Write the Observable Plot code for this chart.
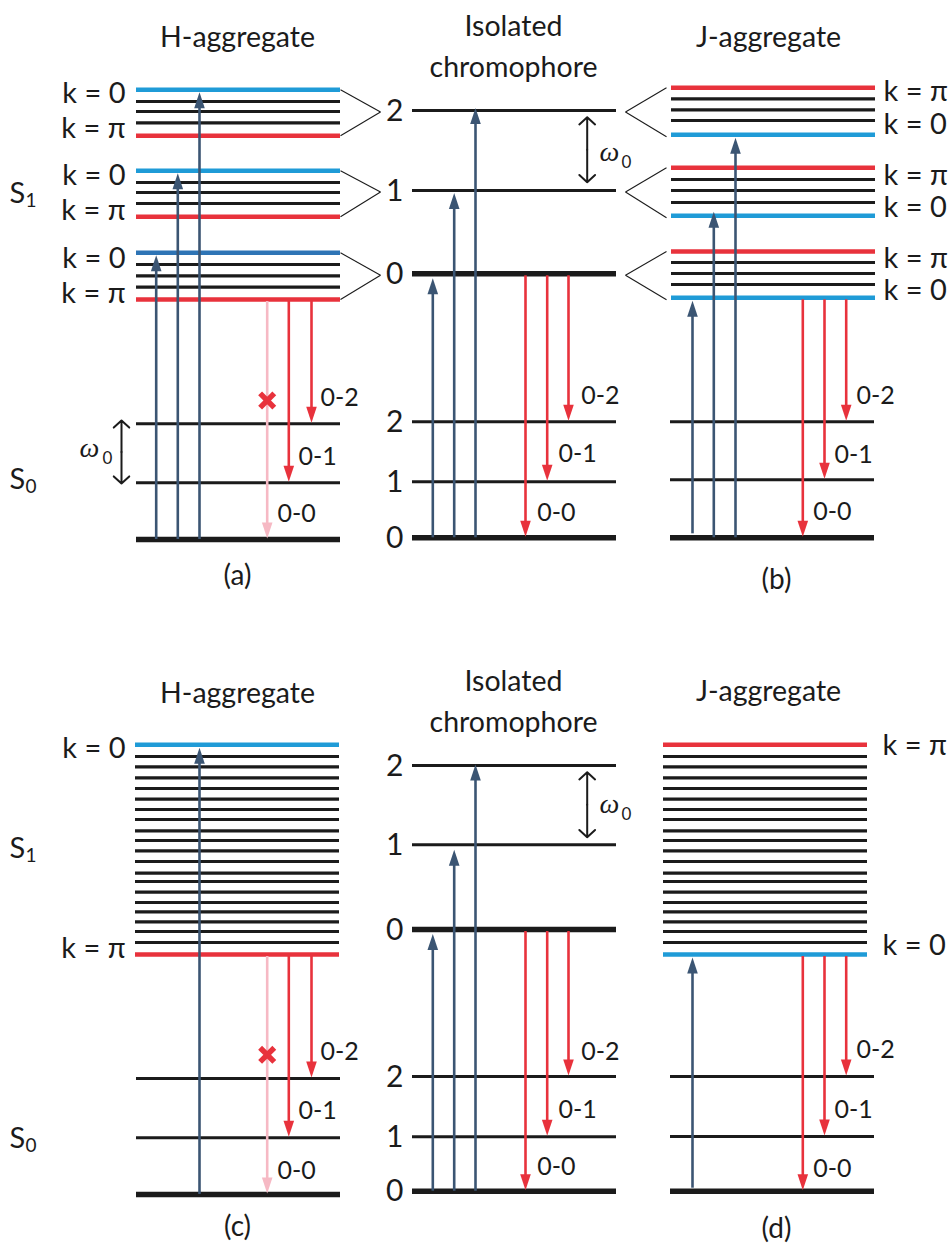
<!DOCTYPE html>
<html>
<head>
<meta charset="utf-8">
<script src="https://cdn.jsdelivr.net/npm/d3@7"></script>
<script src="https://cdn.jsdelivr.net/npm/@observablehq/plot@0.6"></script>
<style>
  html, body { margin: 0; padding: 0; background: #fff; }
  #chart svg { display: block; }
</style>
</head>
<body>
<div id="chart"></div>
<script>
// ================= DATA (vertical values are diagram positions, downward) =================
// Top row: vibronic bands (each band listed top to bottom), vib. levels v = 0, 1, 2
const hBandsTop = [            // H-aggregate (a): k = 0 on top ... k = π at bottom; bands for v = 2, 1, 0
  [89.3, 101, 111, 122.3, 135.3],
  [170.3, 182, 192, 203, 216.3],
  [252.3, 264, 275.3, 286.7, 299]
];
const jBandsTop = [            // J-aggregate (b): k = π on top ... k = 0 at bottom; bands for v = 2, 1, 0
  [87.3, 98.3, 109.3, 120, 134.3],
  [167.3, 179, 190, 202, 215.3],
  [251, 262, 273, 284, 297.3]
];
const isoS1Top = [273.3, 190, 110];      // v = 0, 1, 2
const isoS0Top = [537.3, 481.3, 421.3];
const hS0Top   = [539, 482.3, 423.3];
const jS0Top   = [537.3, 479.3, 421.3];

// Bottom row: continuous exciton band (top to bottom)
const hBandBottom = [744.3, 756, 766.3, 777.3, 788, 798.7, 809, 819, 830.3, 840, 850.3, 861, 872.7, 881, 891.7, 902, 911.3, 921.3, 931, 942, 954];
const jBandBottom = [744.3, 756, 766.3, 777.3, 788, 798.7, 809, 819, 830.3, 840, 850.3, 861, 872.7, 881, 891.7, 902, 911.3, 921.3, 931, 942, 954];
const isoS1Bottom = [929, 844.3, 765];
const isoS0Bottom = [1190.7, 1136.3, 1076];
const hS0Bottom   = [1194, 1137.3, 1078];
const jS0Bottom   = [1190.7, 1136, 1076];

// Labels
const vibLabels = ["0", "1", "2"];
const transitionLabels = ["0-0", "0-1", "0-2"];
const kZero = "k = 0", kPi = "k = π";
const panelLabels = ["(a)", "(b)", "(c)", "(d)"];
const titleH = "H-aggregate", titleIso = "Isolated\nchromophore", titleJ = "J-aggregate";

// ================= LAYOUT & STYLE =================
const BLUE = "#1f9bd7", BLUE_DARK = "#2e74b5", RED = "#e8323c", BLACK = "#1b1b1b",
      SLATE = "#3b5573", PINK = "#f6b9c4";
const rowShift = 655;
const L = {
  a:   {x1: 136, x2: 340, up: [155.7, 177.3, 199], down: [266.7, 288.3, 311]},
  iso: {x1: 412, x2: 616, up: [432.3, 453.7, 475], down: [525, 546.7, 568]},
  b:   {x1: 671, x2: 875, up: [692, 713.3, 735], down: [802.3, 824, 845.7]},
  dBand: {x1: 663, x2: 867}
};

// ================= BUILD RECORDS =================
const levels = [];
function band(values, x1, x2, topColor, bottomColor) {
  const n = values.length;
  values.forEach((y, j) => {
    const edge = j === 0 || j === n - 1;
    levels.push({y, x1, x2, stroke: j === 0 ? topColor : j === n - 1 ? bottomColor : BLACK, sw: edge ? 4.6 : 3.2});
  });
}
function ladder(values, x1, x2) {
  values.forEach((y, v) => levels.push({y, x1, x2, stroke: BLACK, sw: v === 0 ? 5.5 : 3}));
}
// top row
hBandsTop.forEach((b, i) => band(b, L.a.x1, L.a.x2, i === 2 ? BLUE_DARK : BLUE, RED));
jBandsTop.forEach(b => band(b, L.b.x1, L.b.x2, RED, BLUE));
ladder(isoS1Top, L.iso.x1, L.iso.x2);
ladder(isoS0Top, L.iso.x1, L.iso.x2);
ladder(hS0Top, L.a.x1, L.a.x2);
ladder(jS0Top, L.b.x1 - 1, L.b.x2 - 1);
// bottom row
band(hBandBottom, L.a.x1 - 1, L.a.x2 - 1, BLUE, RED);
band(jBandBottom, L.dBand.x1, L.dBand.x2, RED, BLUE);
ladder(isoS1Bottom, L.iso.x1, L.iso.x2);
ladder(isoS0Bottom, L.iso.x1, L.iso.x2);
ladder(hS0Bottom, L.a.x1, L.a.x2);
ladder(jS0Bottom, L.b.x1 - 1, L.b.x2 - 1);

// connectors between split bands and the isolated chromophore levels
const connectors = [];
hBandsTop.forEach((b, i) => {
  const yIso = isoS1Top[2 - i] + 1.5;
  connectors.push({x1: L.a.x2, y1: b[0], x2: 380, y2: yIso});
  connectors.push({x1: L.a.x2, y1: b[b.length - 1], x2: 380, y2: yIso});
});
jBandsTop.forEach((b, i) => {
  const yIso = isoS1Top[2 - i] + 1.5;
  connectors.push({x1: 666, y1: b[0], x2: 625, y2: yIso});
  connectors.push({x1: 666, y1: b[b.length - 1] + 2, x2: 625, y2: yIso});
});

// absorption (up) arrows
const ups = [];
[2, 1, 0].forEach((v, i) => {
  ups.push({x: L.a.up[i], base: hS0Top[0], tip: hBandsTop[v][0] + 2.5});
  ups.push({x: L.iso.up[i], base: isoS0Top[0], tip: isoS1Top[i] + (i === 0 ? 4.5 : i === 1 ? 2.5 : -2.5)});
  ups.push({x: L.b.up[i], base: isoS0Top[0] - (i === 0 ? 4 : 0), tip: jBandsTop[v][4] + (i === 1 ? -4 : 3)});
});
ups.push({x: L.a.up[2], base: hS0Bottom[0], tip: hBandBottom[0] + 3});
ups.push({x: L.b.up[0], base: jS0Bottom[0] - 3, tip: jBandBottom[jBandBottom.length - 1] + 3});
[0, 1, 2].forEach(i => {
  ups.push({x: L.iso.up[i], base: isoS0Bottom[0], tip: isoS1Bottom[i] + (i === 0 ? 4.5 : i === 1 ? 5 : -1)});
});

// emission (down) arrows
const downs = [];
function emission(xs, from, ground, forbidden) {
  [0, 1, 2].forEach(v => downs.push({
    x: xs[v], from, to: ground[v] - 1,
    color: (forbidden && v === 0) ? PINK : RED
  }));
}
emission(L.a.down, hBandsTop[2][4], hS0Top, true);
emission(L.iso.down, isoS1Top[0], isoS0Top, false);
emission(L.b.down, jBandsTop[2][4], jS0Top, false);
emission(L.a.down, hBandBottom[hBandBottom.length - 1], hS0Bottom, true);
emission(L.iso.down, isoS1Bottom[0], isoS0Bottom, false);
emission(L.b.down, jBandBottom[jBandBottom.length - 1], jS0Bottom, false);

const crosses = [
  {x: L.a.down[0], y: 400},
  {x: L.a.down[0], y: 400 + rowShift - 0.7}
];

// ω0 double arrows (each as two halves from the middle)
const omegaSpans = [
  {x: 121, top: 420, bottom: 483},
  {x: 586.7, top: 116.7, bottom: 181.7},
  {x: 586.7, top: 771.7, bottom: 836.7}
];
const omegaHalves = omegaSpans.flatMap(s => {
  const m = (s.top + s.bottom) / 2;
  return [{x1: s.x, y1: m, x2: s.x, y2: s.top}, {x1: s.x, y1: m, x2: s.x, y2: s.bottom}];
});

// ---- text records ----
const textMid = [
  {x: 237, y: 37, t: titleH}, {x: 768, y: 37, t: titleJ},
  {x: 237, y: 693, t: titleH}, {x: 768, y: 691, t: titleJ}
];
const textPanel = [
  {x: 237, y: 576, t: panelLabels[0]}, {x: 776, y: 580, t: panelLabels[1]},
  {x: 237, y: 1227, t: panelLabels[2]}, {x: 776, y: 1229, t: panelLabels[3]}
];
const textIso = [{x: 513, y: 43, t: titleIso}, {x: 513, y: 698, t: titleIso}];
const textEnd = [];
[[93, kZero], [128, kPi], [175, kZero], [210, kPi], [258, kZero], [293, kPi], [748, kZero], [948, kPi]]
  .forEach(([y, t]) => textEnd.push({x: 125, y, t}));
const textVib = [];
[isoS1Top, isoS0Top, isoS1Bottom, isoS0Bottom].forEach(arr =>
  arr.forEach((y, v) => textVib.push({x: 403, y: y + 0.5, t: vibLabels[v]})));
const textStart = [];
[[91, kPi], [124, kZero], [175, kPi], [207, kZero], [258, kPi], [290, kZero]]
  .forEach(([y, t]) => textStart.push({x: 883, y, t}));
[[745, kPi], [945, kZero]].forEach(([y, t]) => textStart.push({x: 882, y, t}));
const textTrans = [];
function transLabels(xs, ys) { [0, 1, 2].forEach(v => textTrans.push({x: xs[v], y: ys[v], t: transitionLabels[v]})); }
transLabels([277, 298, 320], [513, 456, 397]);
transLabels([536.7, 558, 580.7], [512, 453, 395]);
transLabels([812.7, 834, 856], [511, 454, 395]);
transLabels([277, 298, 320], [1170, 1110.7, 1051.7]);
transLabels([536.7, 558, 580.7], [1166.7, 1109, 1051]);
transLabels([812.7, 834, 856], [1168, 1109, 1049]);
const stateS = [{x: 9, y: 193}, {x: 9, y: 479}, {x: 9, y: 848}, {x: 9, y: 1138}];
const stateSub = [{x: 25, y: 200, t: "1"}, {x: 25, y: 486, t: "0"}, {x: 25, y: 855, t: "1"}, {x: 25, y: 1145, t: "0"}];
const omegaText = [{x: 79, y: 448}, {x: 599, y: 152}, {x: 599, y: 804}];
const omegaSub = [{x: 102, y: 458}, {x: 621, y: 162}, {x: 621, y: 814}];

// arrowhead symbol: tip at origin, pointing up
const head = {draw(ctx) { ctx.moveTo(0, 0); ctx.lineTo(5.3, 16); ctx.lineTo(-5.3, 16); ctx.closePath(); }};

const FONT = "Lato, 'Open Sans', 'DejaVu Sans', sans-serif";

const chart = Plot.plot({
  width: 950,
  height: 1245,
  margin: 0,
  x: {domain: [0, 950], range: [0, 950], axis: null},
  y: {domain: [0, 1245], range: [0, 1245], axis: null},
  color: {type: "identity"},
  style: {fontFamily: FONT, background: "#fff", color: BLACK},
  marks: [
    Plot.ruleY(levels, {y: "y", x1: "x1", x2: "x2", stroke: "stroke", strokeWidth: "sw"}),
    Plot.link(connectors, {x1: "x1", y1: "y1", x2: "x2", y2: "y2", stroke: BLACK, strokeWidth: 1.1}),
    Plot.ruleX(ups, {x: "x", y1: "base", y2: d => d.tip + 10, stroke: SLATE, strokeWidth: 2.6}),
    Plot.dot(ups, {x: "x", y: "tip", symbol: head, fill: SLATE, stroke: null, r: 5}),
    Plot.ruleX(downs, {x: "x", y1: d => d.from + 2, y2: d => d.to - 10, stroke: "color", strokeWidth: 2.6}),
    Plot.dot(downs, {x: "x", y: "to", symbol: head, rotate: 180, fill: "color", stroke: null, r: 5}),
    Plot.dot(crosses, {x: "x", y: "y", symbol: "times", r: 6.5, stroke: RED, strokeWidth: 5.5}),
    Plot.arrow(omegaHalves, {x1: "x1", y1: "y1", x2: "x2", y2: "y2", stroke: BLACK, strokeWidth: 2, headAngle: 95, headLength: 8}),
    Plot.text(textMid, {x: "x", y: "y", text: "t", fontSize: 28.5, fill: BLACK, textAnchor: "middle"}),
    Plot.text(textPanel, {x: "x", y: "y", text: "t", fontSize: 28, fill: BLACK, textAnchor: "middle"}),
    Plot.text(textIso, {x: "x", y: "y", text: "t", fontSize: 28.5, fill: BLACK, textAnchor: "middle", lineHeight: 1.42}),
    Plot.text(textEnd, {x: "x", y: "y", text: "t", fontSize: 29, fill: BLACK, textAnchor: "end"}),
    Plot.text(textVib, {x: "x", y: "y", text: "t", fontSize: 30, fill: BLACK, textAnchor: "end"}),
    Plot.text(textStart, {x: "x", y: "y", text: "t", fontSize: 29, fill: BLACK, textAnchor: "start"}),
    Plot.text(textTrans, {x: "x", y: "y", text: "t", fontSize: 25, fill: BLACK, textAnchor: "start"}),
    Plot.text(stateS, {x: "x", y: "y", text: () => "S", fontSize: 29, fill: BLACK, textAnchor: "start"}),
    Plot.text(stateSub, {x: "x", y: "y", text: "t", fontSize: 19, fill: BLACK, textAnchor: "start"}),
    Plot.text(omegaText, {x: "x", y: "y", text: () => "ω", fontSize: 28, fontFamily: "'Liberation Serif', 'DejaVu Serif', serif", fontStyle: "italic", fill: BLACK, textAnchor: "start"}),
    Plot.text(omegaSub, {x: "x", y: "y", text: () => "0", fontSize: 17, fill: BLACK, textAnchor: "start"})
  ]
});
document.getElementById("chart").appendChild(chart);
</script>
</body>
</html>
